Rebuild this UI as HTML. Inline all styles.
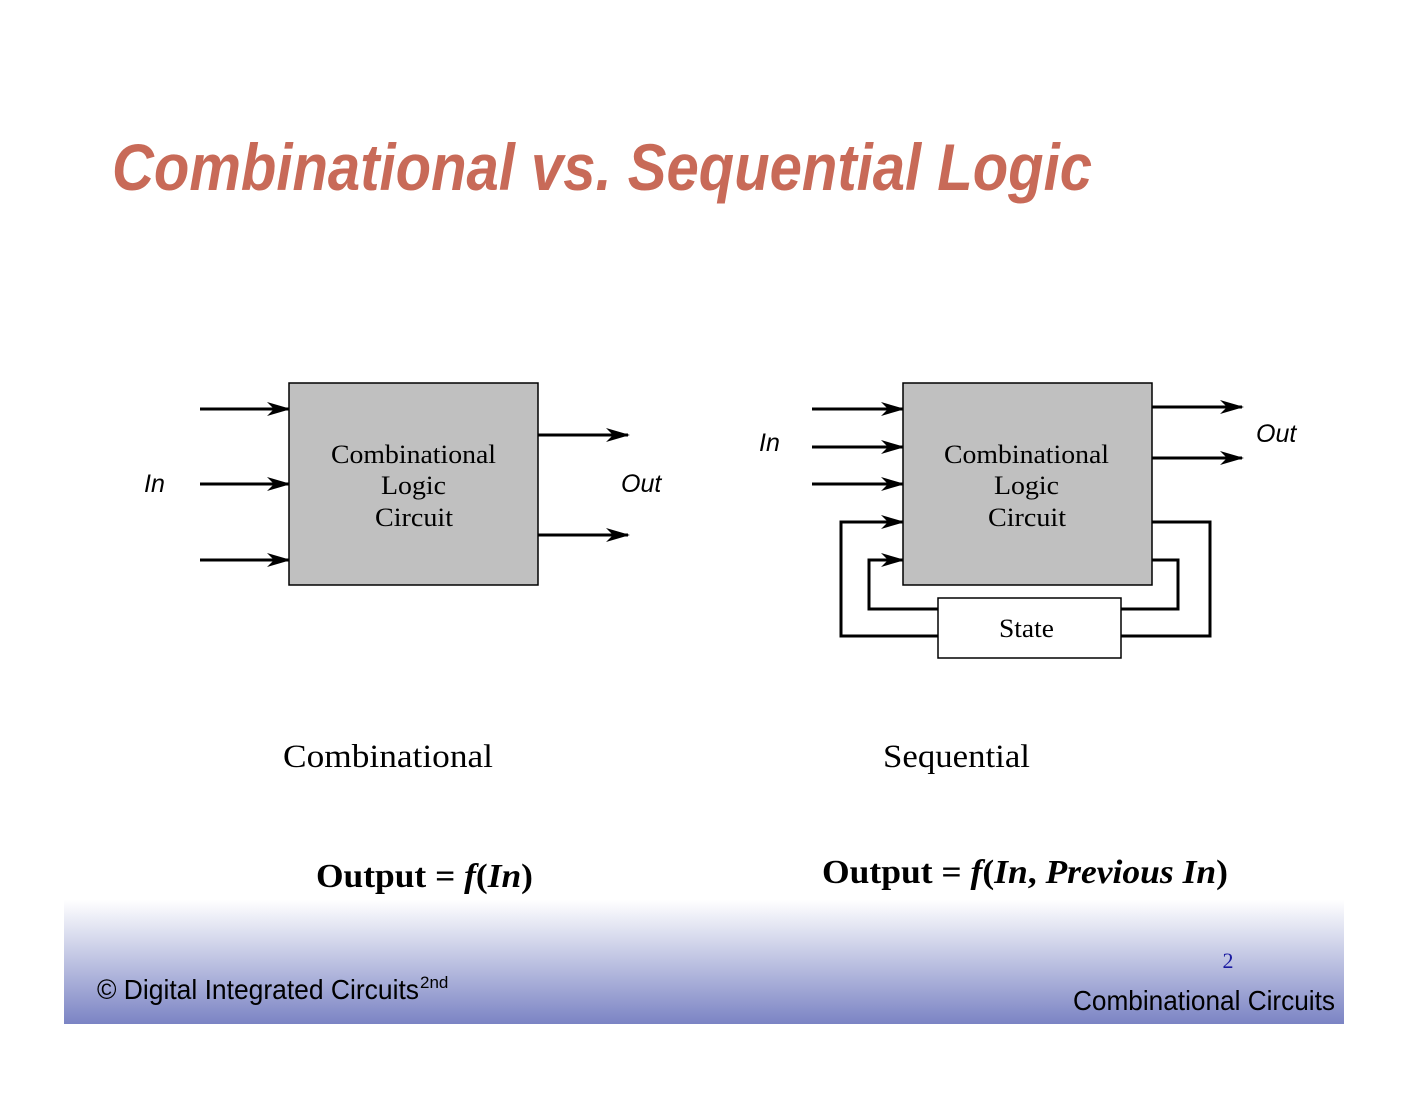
<!DOCTYPE html>
<html><head><meta charset="utf-8"><style>
html,body{margin:0;padding:0;background:#fff;}
</style></head><body>
<svg width="1408" height="1088" viewBox="0 0 1408 1088" xmlns="http://www.w3.org/2000/svg">
<defs>
<linearGradient id="g" x1="0" y1="0" x2="0" y2="1">
<stop offset="0" stop-color="#ffffff"/>
<stop offset="1" stop-color="#7b84c4"/>
</linearGradient>
<marker id="a" markerWidth="24" markerHeight="14" refX="22" refY="7" orient="auto" markerUnits="userSpaceOnUse">
<path d="M0,0 L24,7 L0,14 L7,7 Z" fill="#000"/>
</marker>
</defs>
<rect x="64" y="900" width="1280" height="124" fill="url(#g)"/>
<text x="112" y="190" font-family="Liberation Sans, sans-serif" font-weight="bold" font-style="italic" font-size="66" fill="#c86a58" textLength="980" lengthAdjust="spacingAndGlyphs">Combinational vs. Sequential Logic</text>

<g stroke="#000" stroke-width="3" fill="none">
<line x1="200" y1="409" x2="289" y2="409" marker-end="url(#a)"/>
<line x1="200" y1="484" x2="289" y2="484" marker-end="url(#a)"/>
<line x1="200" y1="560" x2="289" y2="560" marker-end="url(#a)"/>
<line x1="538" y1="435" x2="628" y2="435" marker-end="url(#a)"/>
<line x1="538" y1="535" x2="628" y2="535" marker-end="url(#a)"/>
<line x1="812" y1="409" x2="903" y2="409" marker-end="url(#a)"/>
<line x1="812" y1="447" x2="903" y2="447" marker-end="url(#a)"/>
<line x1="812" y1="484" x2="903" y2="484" marker-end="url(#a)"/>
<line x1="1152" y1="407" x2="1242" y2="407" marker-end="url(#a)"/>
<line x1="1152" y1="458" x2="1242" y2="458" marker-end="url(#a)"/>
<polyline points="1152,522 1210,522 1210,636 1121,636"/>
<polyline points="938,636 841,636 841,522 903,522" marker-end="url(#a)"/>
<polyline points="1152,560 1178,560 1178,609 1121,609"/>
<polyline points="938,609 869,609 869,560 903,560" marker-end="url(#a)"/>
</g>
<rect x="289" y="383" width="249" height="202" fill="#c0c0c0" stroke="#000" stroke-width="1.5"/>
<rect x="903" y="383" width="249" height="202" fill="#c0c0c0" stroke="#000" stroke-width="1.5"/>
<rect x="938" y="598" width="183" height="60" fill="#fff" stroke="#000" stroke-width="1.5"/>

<g font-family="Liberation Serif, serif" font-size="26" fill="#000">
<text x="331" y="463" textLength="165" lengthAdjust="spacingAndGlyphs">Combinational</text>
<text x="381" y="494" textLength="65" lengthAdjust="spacingAndGlyphs">Logic</text>
<text x="375" y="526" textLength="78" lengthAdjust="spacingAndGlyphs">Circuit</text>
<text x="944" y="463" textLength="165" lengthAdjust="spacingAndGlyphs">Combinational</text>
<text x="994" y="494" textLength="65" lengthAdjust="spacingAndGlyphs">Logic</text>
<text x="988" y="526" textLength="78" lengthAdjust="spacingAndGlyphs">Circuit</text>
<text x="999" y="637" textLength="55" lengthAdjust="spacingAndGlyphs">State</text>
</g>
<g font-family="Liberation Sans, sans-serif" font-style="italic" font-size="25" fill="#000">
<text x="144" y="492">In</text>
<text x="621" y="492">Out</text>
<text x="759" y="451">In</text>
<text x="1256" y="442">Out</text>
</g>
<g font-family="Liberation Serif, serif" font-size="33" fill="#000">
<text x="283" y="767" textLength="210" lengthAdjust="spacingAndGlyphs">Combinational</text>
<text x="883" y="767" textLength="147" lengthAdjust="spacingAndGlyphs">Sequential</text>
</g>
<text x="316" y="887" font-family="Liberation Serif, serif" font-size="34" font-weight="bold" textLength="217" lengthAdjust="spacingAndGlyphs">Output = <tspan font-style="italic">f</tspan>(<tspan font-style="italic">In</tspan>)</text>
<text x="822" y="883" font-family="Liberation Serif, serif" font-size="34" font-weight="bold" textLength="406" lengthAdjust="spacingAndGlyphs">Output = <tspan font-style="italic">f</tspan>(<tspan font-style="italic">In</tspan>, <tspan font-style="italic">Previous In</tspan>)</text>

<text x="97" y="999" font-family="Liberation Sans, sans-serif" font-size="28" fill="#000" textLength="322" lengthAdjust="spacingAndGlyphs">© Digital Integrated Circuits</text>
<text x="420" y="988" font-family="Liberation Sans, sans-serif" font-size="17" fill="#000">2nd</text>
<text x="1228" y="968" font-family="Liberation Serif, serif" font-size="22" fill="#1a1aa0" text-anchor="middle">2</text>
<text x="1335" y="1010" font-family="Liberation Sans, sans-serif" font-size="28" fill="#000" text-anchor="end" textLength="262" lengthAdjust="spacingAndGlyphs">Combinational Circuits</text>
</svg>
</body></html>
